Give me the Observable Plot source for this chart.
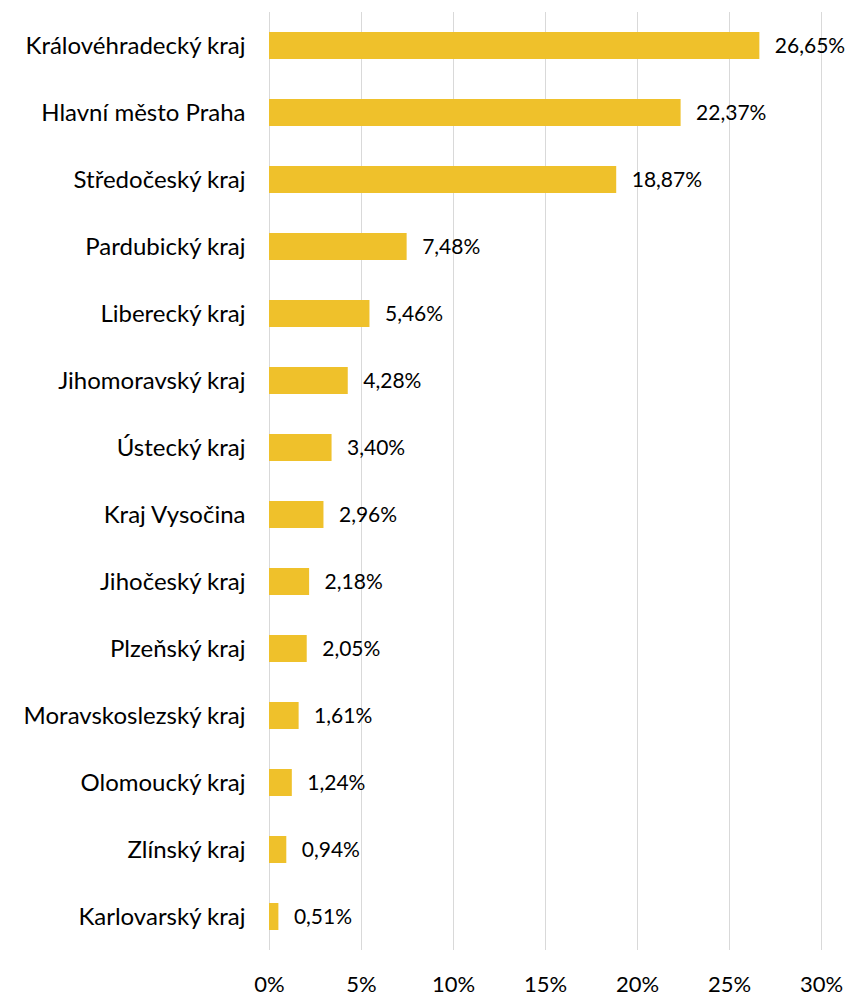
<!DOCTYPE html>
<html>
<head>
<meta charset="utf-8">
<script src="https://cdn.jsdelivr.net/npm/d3@7"></script>
<script src="https://cdn.jsdelivr.net/npm/@observablehq/plot@0.6"></script>
<style>
  html, body { margin: 0; padding: 0; background: #fff; }
  #chart svg { display: block; }
</style>
</head>
<body>
<div id="chart"></div>
<script>
const regions = [
  "Královéhradecký kraj",
  "Hlavní město Praha",
  "Středočeský kraj",
  "Pardubický kraj",
  "Liberecký kraj",
  "Jihomoravský kraj",
  "Ústecký kraj",
  "Kraj Vysočina",
  "Jihočeský kraj",
  "Plzeňský kraj",
  "Moravskoslezský kraj",
  "Olomoucký kraj",
  "Zlínský kraj",
  "Karlovarský kraj"
];
const shares = [26.65, 22.37, 18.87, 7.48, 5.46, 4.28, 3.40, 2.96, 2.18, 2.05, 1.61, 1.24, 0.94, 0.51];
const xTicks = [0, 5, 10, 15, 20, 25, 30];

const data = regions.map((r, i) => ({region: r, value: shares[i]}));
const fmt = v => v.toFixed(2).replace(".", ",") + "%";

const chart = Plot.plot({
  width: 850,
  height: 996,
  marginLeft: 269,
  marginRight: 29,
  marginTop: 12,
  marginBottom: 46,
  style: {fontFamily: "Lato, 'Open Sans', sans-serif", fontSize: "20px", color: "#000", background: "#fff"},
  x: {domain: [0, 30], ticks: xTicks, tickFormat: d => d + "%", label: null},
  y: {domain: regions, paddingInner: 0.6, paddingOuter: 0.3, label: null},
  marks: [
    Plot.gridX(xTicks, {stroke: "#d9d9d9", strokeOpacity: 1, strokeWidth: 1}),
    Plot.barX(data, {x: "value", y: "region", fill: "#EFC12B"}),
    Plot.text(data, {x: "value", y: "region", text: d => fmt(d.value), textAnchor: "start", dx: 15, fontSize: 21, fill: "#000"}),
    Plot.axisX({ticks: xTicks, tickFormat: d => d + "%", tickSize: 0, tickPadding: 26, fontSize: 22, label: null}),
    Plot.axisY({tickSize: 0, tickPadding: 24, fontSize: 24, label: null})
  ]
});
document.getElementById("chart").append(chart);
</script>
</body>
</html>
